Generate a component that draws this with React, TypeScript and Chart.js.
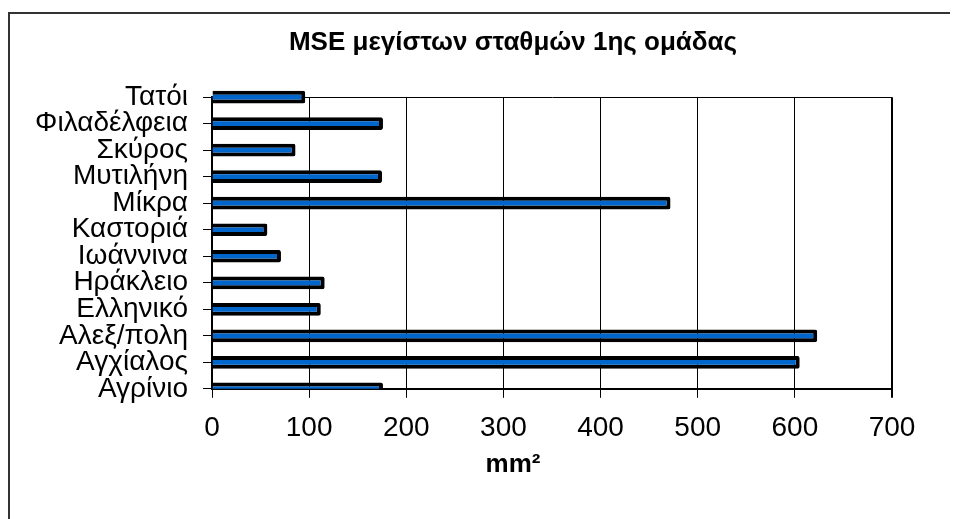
import React, { useEffect, useRef } from "react";
import { Chart, registerables } from "chart.js";

Chart.register(...registerables);

// Categories listed bottom-to-top (as in the original chart)
const stations = [
  "Αγρίνιο",
  "Αγχίαλος",
  "Αλεξ/πολη",
  "Ελληνικό",
  "Ηράκλειο",
  "Ιωάννινα",
  "Καστοριά",
  "Μίκρα",
  "Μυτιλήνη",
  "Σκύρος",
  "Φιλαδέλφεια",
  "Τατόι",
];
const mseValues = [176, 605, 623, 112, 116, 71, 57, 472, 175, 86, 176, 96];
const xTicks = [0, 100, 200, 300, 400, 500, 600, 700];
const chartTitle = "MSE μεγίστων σταθμών 1ης ομάδας";
const xAxisTitle = "mm²";

const FONT = "'Liberation Sans', Arial, Helvetica, sans-serif";

export default function App() {
  const canvasRef = useRef<HTMLCanvasElement | null>(null);

  useEffect(() => {
    if (!canvasRef.current) return;
    const chart = new Chart(canvasRef.current, {
      type: "bar",
      data: {
        labels: stations,
        datasets: [
          {
            data: mseValues,
            backgroundColor: "#0066CC",
            borderColor: "#000000",
            borderWidth: 4,
            borderRadius: 2,
            borderSkipped: "start",
            barPercentage: 0.48,
            categoryPercentage: 1,
            clip: { left: 0, top: false, right: false, bottom: 0 } as any,
          },
        ],
      },
      options: {
        indexAxis: "y",
        responsive: false,
        animation: false,
        layout: { padding: { left: 0, right: 0, top: 0, bottom: 90 } },
        plugins: {
          legend: { display: false },
          tooltip: { enabled: false },
          title: {
            display: true,
            text: chartTitle,
            color: "#000",
            font: { family: FONT, size: 26, weight: "bold" },
            padding: { top: 13, bottom: 39 },
          },
          subtitle: {
            display: true,
            position: "bottom",
            text: xAxisTitle,
            color: "#000",
            font: { family: FONT, size: 26, weight: "bold" },
            padding: { top: 3, bottom: 0 },
          },
        },
        scales: {
          x: {
            type: "linear",
            min: xTicks[0],
            max: xTicks[xTicks.length - 1],
            afterBuildTicks: (scale: any) => {
              scale.ticks = xTicks.map((v) => ({ value: v }));
            },
            afterFit: (scale: any) => {
              scale.height = 57;
            },
            ticks: {
              color: "#000",
              font: { family: FONT, size: 28 },
              padding: 14,
              maxRotation: 0,
            },
            grid: {
              color: "#000",
              lineWidth: (ctx: any) => (ctx.index === xTicks.length - 1 ? 2 : 1),
              tickLength: 9,
              tickColor: "#000",
            },
            border: { display: true, color: "#000", width: 2 },
          },
          y: {
            type: "category",
            reverse: true,
            offset: false,
            afterFit: (scale: any) => {
              scale.width = 202;
            },
            ticks: {
              color: "#000",
              font: { family: FONT, size: 28 },
              padding: 15,
              autoSkip: false,
            },
            grid: {
              offset: false,
              drawOnChartArea: true,
              color: (ctx: any) =>
                ctx.index === stations.length - 1 ? "#000" : "rgba(0,0,0,0)",
              tickColor: "#000",
              tickLength: 9,
              lineWidth: 1,
            },
            border: { display: true, color: "#000", width: 2 },
          },
          // invisible right-side spacer so that title/subtitle stay centred on the frame
          spacer: {
            type: "linear",
            axis: "y",
            position: "right",
            min: 0,
            max: 1,
            afterFit: (scale: any) => {
              scale.width = 124;
            },
            ticks: { display: false },
            grid: { display: false, drawTicks: false },
            border: { display: false },
          },
        },
      },
    } as any);
    return () => chart.destroy();
  }, []);

  return (
    <div
      style={{
        width: 950,
        height: 511,
        paddingTop: 4,
        boxSizing: "border-box",
        overflow: "hidden",
        background: "#fff",
      }}
    >
      <div
        style={{
          width: 1010,
          height: 560,
          border: "2px solid #333",
          boxSizing: "border-box",
          background: "#fff",
        }}
      >
        <canvas ref={canvasRef} width={1006} height={556} style={{ display: "block" }} />
      </div>
    </div>
  );
}
